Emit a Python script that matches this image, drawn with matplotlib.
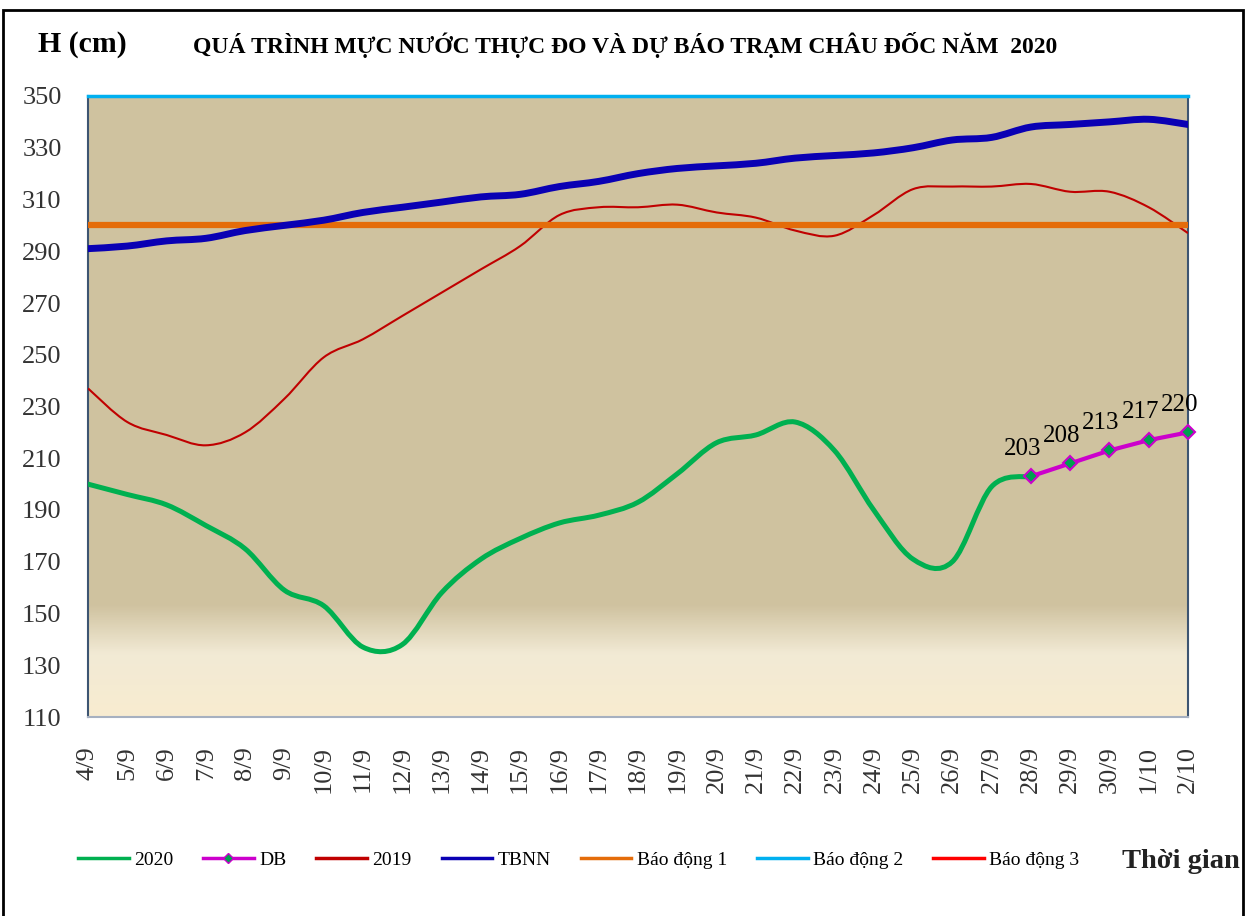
import numpy as np
import matplotlib
matplotlib.use("Agg")
from matplotlib import pyplot as plt
from matplotlib.path import Path
from matplotlib.patches import PathPatch, Rectangle
from matplotlib.lines import Line2D
from matplotlib.colors import LinearSegmentedColormap

plt.rcParams["font.family"] = ["Liberation Serif", "DejaVu Serif"]

# ngày (trục hoành)
days = ["4/9", "5/9", "6/9", "7/9", "8/9", "9/9", "10/9", "11/9", "12/9", "13/9",
        "14/9", "15/9", "16/9", "17/9", "18/9", "19/9", "20/9", "21/9", "22/9",
        "23/9", "24/9", "25/9", "26/9", "27/9", "28/9", "29/9", "30/9", "1/10", "2/10"]

# mực nước thực đo 2020 (4/9 -> 28/9)
h2020 = [200, 196, 192, 184, 175, 159, 153, 137, 138, 158, 171, 179, 185, 188,
         193, 204, 216, 219, 224, 213, 190, 171, 170, 199, 203]
# dự báo (28/9 -> 2/10)
db_start = 24
db = [203, 208, 213, 217, 220]
# cùng kỳ 2019
h2019 = [237, 224, 219, 215, 220, 233, 249, 256, 265, 274, 283, 292, 304, 307,
         307, 308, 305, 303, 298, 296, 304, 314, 315, 315, 316, 313, 313, 307, 297]
# trung bình nhiều năm
tbnn = [291, 292, 294, 295, 298, 300, 302, 305, 307, 309, 311, 312, 315, 317,
        320, 322, 323, 324, 326, 327, 328, 330, 333, 334, 338, 339, 340, 341, 339]
# mức báo động
bd1, bd2, bd3 = 300, 350, 400

y_ticks = list(range(110, 351, 20))


def smooth_path(x, y):
    # đường cong kiểu "smoothed line" của Excel
    pts = np.column_stack([x, y]).astype(float)
    p = np.vstack([pts[0], pts, pts[-1]])
    verts = [pts[0]]
    codes = [Path.MOVETO]
    for i in range(1, len(p) - 2):
        p0, p1, p2, p3 = p[i - 1], p[i], p[i + 1], p[i + 2]
        verts += [p1 + (p2 - p0) / 6, p2 - (p3 - p1) / 6, p2]
        codes += [Path.CURVE4] * 3
    return Path(verts, codes)


fig = plt.figure(figsize=(12.53, 9.16), dpi=100)
ax = fig.add_axes([88 / 1253, 1 - 717 / 916, 1100 / 1253, 621 / 916])

# nền chuyển màu
cmap = LinearSegmentedColormap.from_list(
    "bg", [(0.0, "#f8ecd0"), (0.10, "#f2ead5"), (0.18, "#cfc29f"), (1.0, "#d0c3a0")])
grad = np.linspace(0, 1, 256).reshape(-1, 1)
ax.imshow(grad, cmap=cmap, aspect="auto", extent=[0, 1, 0, 1], origin="lower",
          transform=ax.transAxes, zorder=0)

x = np.arange(len(days))
n20 = len(h2020)
ax.add_patch(PathPatch(smooth_path(x[:n20], h2020), fill=False, edgecolor="#00b050",
                       lw=3.6, capstyle="round", joinstyle="round", zorder=3))
ax.add_patch(PathPatch(smooth_path(x, h2019), fill=False, edgecolor="#c00000",
                       lw=1.5, zorder=3))
ax.axhline(bd1, color="#e46c0a", lw=4.5, zorder=4)
ax.add_patch(PathPatch(smooth_path(x, tbnn), fill=False, edgecolor="#0a00b4",
                       lw=5, capstyle="round", zorder=5))
ax.axhline(bd2, color="#00b0f0", lw=2.5, zorder=6, clip_on=False)
ax.axhline(bd3, color="#ff0000", lw=2, zorder=6)

xdb = x[db_start:db_start + len(db)]
ax.plot(xdb, db, color="#cc00cc", lw=3, marker="D", ms=7, mfc="#00a050",
        mec="#cc00cc", mew=1.5, zorder=7, clip_on=False)
for xi, v in zip(xdb, db):
    ax.annotate(str(v), (xi, v), xytext=(-6, 20), textcoords="offset points",
                ha="center", va="center", fontsize=18, color="black", zorder=8)

ax.set_xlim(0, len(days) - 1)
ax.set_ylim(110, 350)
ax.set_xticks(x)
ax.set_xticklabels(days, rotation=90, fontsize=19, color="#333333")
ax.set_yticks(y_ticks)
ax.set_yticklabels([str(t) for t in y_ticks], fontsize=19, color="#333333")
ax.tick_params(axis="x", length=0, pad=21)
ax.tick_params(axis="y", length=0, pad=19)
for s in ["left", "right"]:
    ax.spines[s].set_color("#3d5572")
    ax.spines[s].set_linewidth(1.5)
ax.spines["bottom"].set_color("#a6b0c0")
ax.spines["bottom"].set_linewidth(1.5)
ax.spines["top"].set_visible(False)

fig.text(38 / 1253, 1 - 45 / 916, "H (cm)", fontsize=21.5, fontweight="bold",
         va="center", ha="left")
fig.text(193 / 1253, 1 - 45 / 916,
         "QUÁ TRÌNH MỰC NƯỚC THỰC ĐO VÀ DỰ BÁO TRẠM CHÂU ĐỐC NĂM  2020",
         fontsize=17, fontweight="bold", va="center", ha="left")
fig.text(1122 / 1253, 1 - 861 / 916, "Thời gian", fontsize=20.5, fontweight="bold",
         va="center", ha="left", color="#222222")

handles = [
    Line2D([], [], color="#00b050", lw=2.5),
    Line2D([], [], color="#cc00cc", lw=2.5, marker="D", ms=5, mfc="#00a050", mec="#cc00cc"),
    Line2D([], [], color="#c00000", lw=2.5),
    Line2D([], [], color="#0a00b4", lw=2.5),
    Line2D([], [], color="#e46c0a", lw=2.5),
    Line2D([], [], color="#00b0f0", lw=2.5),
    Line2D([], [], color="#ff0000", lw=2.5),
]
labels = ["2020", "DB", "2019", "TBNN", "Báo động 1", "Báo động 2", "Báo động 3"]
fig.legend(handles, labels, loc="center left", bbox_to_anchor=(78 / 1253, 0.061),
           ncol=7, frameon=False, fontsize=14, handlelength=2.6,
           handletextpad=0.27, columnspacing=1.55, borderaxespad=0, borderpad=0)

# khung viền
fig.patches.append(Rectangle((3 / 1253, -0.1), 1240 / 1253, 1.1 - 10 / 916,
                             transform=fig.transFigure, fill=False, ec="black",
                             lw=2, zorder=10))

fig.savefig("out.png", dpi=100)
